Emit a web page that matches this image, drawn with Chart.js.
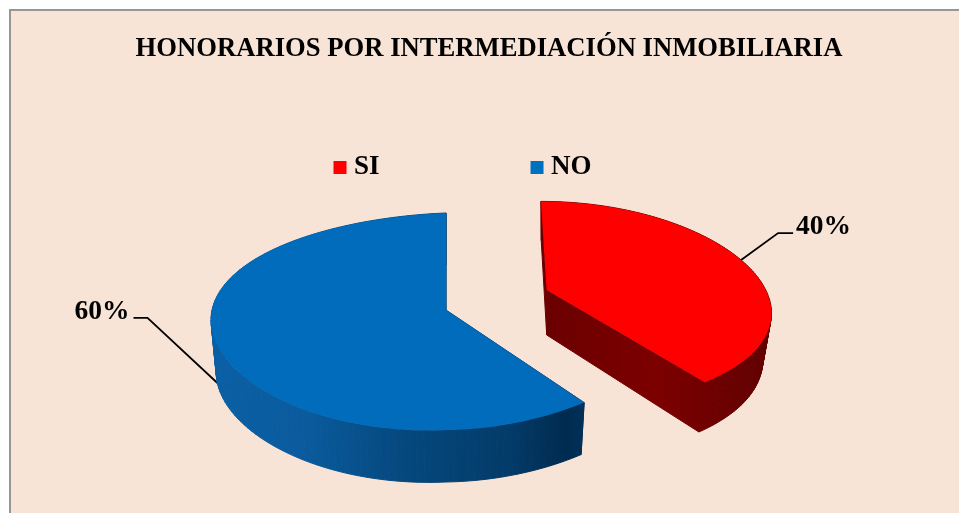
<!DOCTYPE html>
<html>
<head>
<meta charset="utf-8">
<title>Honorarios por intermediación inmobiliaria</title>
<script src="https://cdn.jsdelivr.net/npm/chart.js@4"></script>
<style>
    html, body { margin: 0; height: 100%; background: #fff; overflow: hidden; }
    #panel {
        position: absolute; left: 9px; top: 9px; width: 960px; height: 510px;
        border-top: 2px solid #969696; border-left: 2px solid #969696;
        background: #F8E4D6;
    }
</style>
</head>
<body>
<div id="panel"><canvas id="pie" width="956" height="502"></canvas></div>
<script>
const chartTitle = 'HONORARIOS POR INTERMEDIACIÓN INMOBILIARIA';
const categories = ['SI', 'NO'];
const percentages = [40, 60];
const sliceColors = ['#FF0000', '#0070C0'];

const SERIF = '"Liberation Serif", "Times New Roman", serif';
const LEGEND_PADDING = 157;
const LEGEND_X = 328.5;   // left edge of the first legend box, canvas px
const LEGEND_Y = 143;

// How each slice is tilted and pulled out of the pie, relative to the arc Chart.js laid out
const sliceViews = [
    {
        dx: 57.7, dy: -4, rx: 1.095, ry: 0.505, kx: 0.2, ky: 0.14, shear: 5.7, tiltY: 0,
        shrink: 0.962, depth: 45, depthGrow: 6, leaderDepth: 0,
        topColor: '#FF0000',
        side: [[0, '#6a0000'], [0.5, '#7c0000'], [1, '#600000']],
        elbow: [37, -27], leaderEnd: [52, -27], labelAt: [55, -33]
    },
    {
        dx: -43, dy: 16, rx: 1.175, ry: 0.5365, kx: 0, ky: 0.106, shear: 0, tiltY: -10,
        shrink: 0.978, depth: 52, depthGrow: 0, leaderDepth: 34,
        topColor: '#006CBB',
        side: [[0, '#0a5fa4'], [0.25, '#0a5b9e'], [0.5, '#05497f'], [0.8, '#033b69'], [0.95, '#002b50'], [1, '#003059']],
        elbow: [-75, -70], leaderEnd: [-89, -70], labelAt: [-93, -76]
    }
];

// Maps an angle of the arc onto the tilted top face of its slice
function topPoint(arc, view, angle) {
    const u = Math.cos(angle);
    const v = Math.sin(angle);
    return {
        x: arc.x + view.dx + view.rx * arc.outerRadius * u / (1 - view.kx * v) + view.shear * v,
        y: arc.y + view.dy + view.ry * arc.outerRadius * v / (1 - view.ky * v) + view.tiltY * (u < 0 ? u : u * 0.4)
    };
}

// Same point on the bottom face, slightly narrower because it is further away
function bottomPoint(arc, view, angle) {
    const p = topPoint(arc, view, angle);
    const vanishX = arc.x + view.dx;
    return {
        x: vanishX + (p.x - vanishX) * view.shrink,
        y: p.y + view.depth + view.depthGrow * Math.sin(angle)
    };
}

function outline(arc, view, pointAt) {
    const pts = [pointAt === topPoint
        ? { x: arc.x + view.dx, y: arc.y + view.dy }
        : { x: arc.x + view.dx, y: arc.y + view.dy + view.depth }];
    const steps = 120;
    for (let i = 0; i <= steps; i++) {
        pts.push(pointAt(arc, view, arc.startAngle + (arc.endAngle - arc.startAngle) * i / steps));
    }
    return pts;
}

function drawSlice(ctx, arc, view) {
    const top = outline(arc, view, topPoint);
    const bottom = outline(arc, view, bottomPoint);

    // side walls first, the top face goes over them
    const xs = top.concat(bottom).map(p => p.x);
    const gradient = ctx.createLinearGradient(Math.min(...xs), 0, Math.max(...xs), 0);
    view.side.forEach(stop => gradient.addColorStop(stop[0], stop[1]));
    ctx.fillStyle = gradient;
    ctx.strokeStyle = gradient;
    ctx.lineWidth = 1;
    for (let i = 0; i < top.length; i++) {
        const j = (i + 1) % top.length;
        ctx.beginPath();
        ctx.moveTo(top[i].x, top[i].y);
        ctx.lineTo(top[j].x, top[j].y);
        ctx.lineTo(bottom[j].x, bottom[j].y);
        ctx.lineTo(bottom[i].x, bottom[i].y);
        ctx.closePath();
        ctx.fill();
        ctx.stroke();
    }

    ctx.beginPath();
    top.forEach((p, i) => i ? ctx.lineTo(p.x, p.y) : ctx.moveTo(p.x, p.y));
    ctx.closePath();
    ctx.fillStyle = view.topColor;
    ctx.fill();
}

function drawLabel(ctx, arc, view, value) {
    const mid = (arc.startAngle + arc.endAngle) / 2;
    const from = topPoint(arc, view, mid);
    from.y += view.leaderDepth;
    ctx.beginPath();
    ctx.moveTo(from.x, from.y);
    ctx.lineTo(from.x + view.elbow[0], from.y + view.elbow[1]);
    ctx.lineTo(from.x + view.leaderEnd[0], from.y + view.leaderEnd[1]);
    ctx.strokeStyle = '#000';
    ctx.lineWidth = 1.8;
    ctx.stroke();

    ctx.fillStyle = '#000';
    ctx.font = 'bold 27.5px ' + SERIF;
    ctx.textBaseline = 'middle';
    ctx.textAlign = view.labelAt[0] < 0 ? 'right' : 'left';
    ctx.fillText(value + '%', from.x + view.labelAt[0], from.y + view.labelAt[1]);
}

const pie3d = {
    id: 'pie3d',
    afterLayout(chart) {
        // legend sits lower than the title block and off-centre
        const legend = chart.legend;
        legend.left = LEGEND_X - LEGEND_PADDING;
        legend.right = chart.width;
        legend.top = LEGEND_Y - LEGEND_PADDING;
        legend.bottom = LEGEND_Y + 40;
    },
    beforeDatasetDraw(chart, args) {
        const ctx = chart.ctx;
        const arcs = args.meta.data;
        ctx.save();
        // leader lines go underneath so they stop at the slice edge
        arcs.forEach((arc, i) => drawLabel(ctx, arc, sliceViews[i], percentages[i]));
        arcs.forEach((arc, i) => drawSlice(ctx, arc, sliceViews[i]));
        ctx.restore();
        return false;
    }
};

new Chart(document.getElementById('pie'), {
    type: 'pie',
    data: {
        labels: categories,
        datasets: [{
            data: percentages,
            backgroundColor: sliceColors,
            borderWidth: 0,
            radius: 200
        }]
    },
    options: {
        responsive: false,
        animation: false,
        plugins: {
            tooltip: { enabled: false },
            title: {
                display: true,
                text: chartTitle,
                color: '#000',
                font: { family: SERIF, size: 26.65, weight: 'bold' },
                padding: { top: 22, bottom: 0 }
            },
            legend: {
                position: 'top',
                align: 'start',
                maxHeight: 10,
                labels: {
                    usePointStyle: true,
                    pointStyle: 'rect',
                    boxWidth: 1,
                    boxHeight: 13,
                    padding: LEGEND_PADDING,
                    color: '#000',
                    font: { family: SERIF, size: 27, weight: 'bold' }
                }
            }
        }
    },
    plugins: [pie3d]
});
</script>
</body>
</html>
